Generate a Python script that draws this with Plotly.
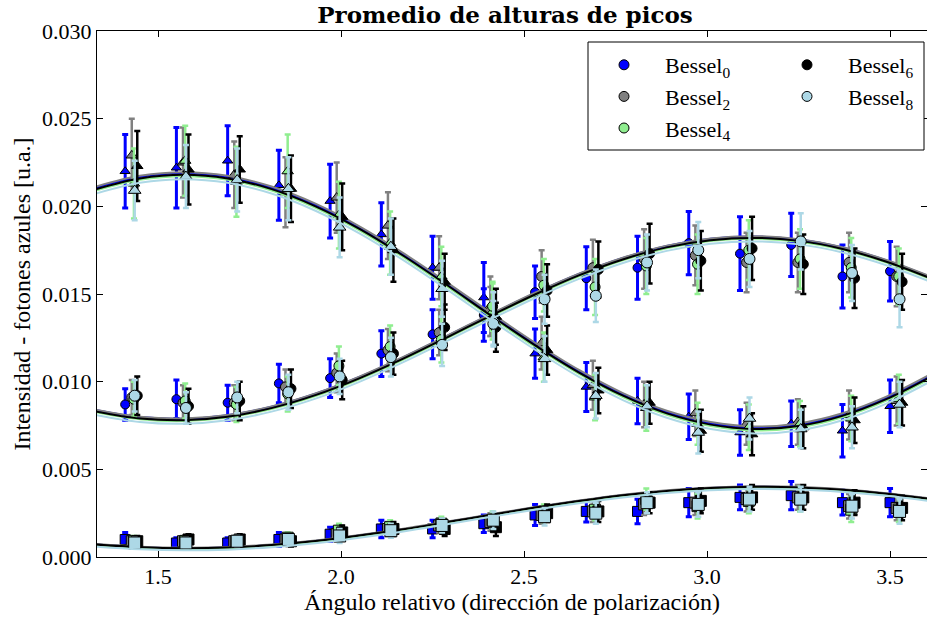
import plotly.graph_objects as go

# ---------------- data ----------------
series_names = ["Bessel<sub>0</sub>", "Bessel<sub>2</sub>", "Bessel<sub>4</sub>",
                "Bessel<sub>6</sub>", "Bessel<sub>8</sub>"]

angles = [1.41, 1.55, 1.69, 1.83, 1.97, 2.11, 2.25, 2.39,
          2.53, 2.67, 2.81, 2.95, 3.09, 3.23, 3.37, 3.50]

# triangles (decreasing peak)
tri_b0 = [0.0220, 0.0222, 0.0226, 0.0212, 0.0203, 0.0184, 0.0165, 0.0148, 0.0116, 0.0097, 0.0089, 0.0080, 0.0071, 0.0076, 0.0072, 0.0086]
tri_b2 = [0.0229, 0.0225, 0.0218, 0.0208, 0.0205, 0.0189, 0.0165, 0.0143, 0.0122, 0.0098, 0.0087, 0.0082, 0.0076, 0.0077, 0.0081, 0.0089]
tri_b4 = [0.0213, 0.0226, 0.0214, 0.0220, 0.0195, 0.0179, 0.0160, 0.0140, 0.0114, 0.0091, 0.0085, 0.0076, 0.0074, 0.0076, 0.0079, 0.0090]
tri_b6 = [0.0223, 0.0221, 0.0221, 0.0210, 0.0194, 0.0175, 0.0157, 0.0137, 0.0118, 0.0095, 0.0088, 0.0072, 0.0070, 0.0074, 0.0078, 0.0088]
tri_b8 = [0.0209, 0.0217, 0.0215, 0.0210, 0.0188, 0.0177, 0.0153, 0.0136, 0.0113, 0.0092, 0.0086, 0.0071, 0.0079, 0.0073, 0.0074, 0.0087]

tri_err_b0 = [0.0021, 0.0023, 0.0020, 0.0020, 0.0021, 0.0018, 0.0018, 0.0020, 0.0014, 0.0014, 0.0013, 0.0013, 0.0013, 0.0013, 0.0015, 0.0015]
tri_err_b2 = [0.0021, 0.0020, 0.0019, 0.0020, 0.0020, 0.0019, 0.0018, 0.0017, 0.0015, 0.0014, 0.0013, 0.0013, 0.0012, 0.0013, 0.0014, 0.0014]
tri_err_b4 = [0.0020, 0.0020, 0.0020, 0.0021, 0.0019, 0.0018, 0.0017, 0.0016, 0.0014, 0.0013, 0.0013, 0.0012, 0.0013, 0.0013, 0.0013, 0.0014]
tri_err_b6 = [0.0020, 0.0020, 0.0019, 0.0019, 0.0019, 0.0018, 0.0016, 0.0016, 0.0014, 0.0013, 0.0012, 0.0012, 0.0012, 0.0012, 0.0013, 0.0013]
tri_err_b8 = [0.0017, 0.0018, 0.0018, 0.0018, 0.0017, 0.0016, 0.0016, 0.0015, 0.0013, 0.0013, 0.0012, 0.0012, 0.0012, 0.0011, 0.0012, 0.0013]

# circles (increasing peak)
cir_b0 = [0.0087, 0.0090, 0.0088, 0.0099, 0.0102, 0.0116, 0.0127, 0.0138, 0.0151, 0.0159, 0.0165, 0.0179, 0.0173, 0.0178, 0.0160, 0.0163]
cir_b2 = [0.0091, 0.0088, 0.0088, 0.0097, 0.0105, 0.0118, 0.0128, 0.0140, 0.0160, 0.0165, 0.0170, 0.0172, 0.0168, 0.0168, 0.0168, 0.0160]
cir_b4 = [0.0090, 0.0089, 0.0087, 0.0093, 0.0109, 0.0120, 0.0124, 0.0143, 0.0155, 0.0154, 0.0166, 0.0167, 0.0175, 0.0170, 0.0165, 0.0160]
cir_b6 = [0.0092, 0.0086, 0.0089, 0.0096, 0.0101, 0.0116, 0.0131, 0.0131, 0.0152, 0.0164, 0.0173, 0.0169, 0.0176, 0.0167, 0.0159, 0.0157]
cir_b8 = [0.0092, 0.0085, 0.0091, 0.0094, 0.0103, 0.0114, 0.0121, 0.0133, 0.0147, 0.0149, 0.0168, 0.0175, 0.0170, 0.0180, 0.0162, 0.0147]

cir_err_b0 = [0.0009, 0.0011, 0.0010, 0.0011, 0.0011, 0.0013, 0.0014, 0.0015, 0.0015, 0.0018, 0.0018, 0.0018, 0.0021, 0.0018, 0.0018, 0.0017]
cir_err_b2 = [0.0010, 0.0010, 0.0010, 0.0010, 0.0011, 0.0012, 0.0013, 0.0014, 0.0015, 0.0016, 0.0017, 0.0017, 0.0017, 0.0017, 0.0017, 0.0017]
cir_err_b4 = [0.0010, 0.0010, 0.0010, 0.0010, 0.0011, 0.0012, 0.0013, 0.0014, 0.0015, 0.0016, 0.0016, 0.0017, 0.0017, 0.0017, 0.0017, 0.0016]
cir_err_b6 = [0.0011, 0.0010, 0.0011, 0.0011, 0.0011, 0.0012, 0.0013, 0.0014, 0.0015, 0.0016, 0.0017, 0.0017, 0.0018, 0.0017, 0.0017, 0.0016]
cir_err_b8 = [0.0009, 0.0009, 0.0009, 0.0010, 0.0010, 0.0011, 0.0012, 0.0013, 0.0014, 0.0015, 0.0016, 0.0016, 0.0016, 0.0016, 0.0016, 0.0016]

# squares (low peak)
sq_b0 = [0.0010, 0.0008, 0.0008, 0.0010, 0.0013, 0.0016, 0.0016, 0.0019, 0.0024, 0.0026, 0.0026, 0.0031, 0.0034, 0.0035, 0.0031, 0.0031]
sq_b2 = [0.0009, 0.0009, 0.0009, 0.0010, 0.0013, 0.0016, 0.0018, 0.0020, 0.0024, 0.0026, 0.0030, 0.0031, 0.0033, 0.0034, 0.0029, 0.0028]
sq_b4 = [0.0009, 0.0009, 0.0009, 0.0011, 0.0015, 0.0017, 0.0019, 0.0021, 0.0025, 0.0027, 0.0033, 0.0029, 0.0032, 0.0033, 0.0027, 0.0027]
sq_b6 = [0.0009, 0.0010, 0.0010, 0.0009, 0.0014, 0.0016, 0.0016, 0.0017, 0.0025, 0.0026, 0.0031, 0.0032, 0.0034, 0.0034, 0.0031, 0.0028]
sq_b8 = [0.0008, 0.0008, 0.0009, 0.0010, 0.0012, 0.0015, 0.0018, 0.0021, 0.0023, 0.0025, 0.0031, 0.0030, 0.0033, 0.0033, 0.0029, 0.0026]

sq_err_b0 = [0.0004, 0.0003, 0.0003, 0.0004, 0.0004, 0.0005, 0.0005, 0.0005, 0.0006, 0.0006, 0.0007, 0.0008, 0.0007, 0.0008, 0.0007, 0.0008]
sq_err_b2 = [0.0003, 0.0003, 0.0003, 0.0003, 0.0004, 0.0004, 0.0004, 0.0005, 0.0005, 0.0006, 0.0006, 0.0007, 0.0007, 0.0007, 0.0007, 0.0007]
sq_err_b4 = [0.0003, 0.0003, 0.0003, 0.0003, 0.0004, 0.0004, 0.0004, 0.0005, 0.0005, 0.0006, 0.0006, 0.0007, 0.0007, 0.0007, 0.0007, 0.0007]
sq_err_b6 = [0.0003, 0.0003, 0.0003, 0.0003, 0.0004, 0.0004, 0.0004, 0.0005, 0.0005, 0.0006, 0.0006, 0.0007, 0.0007, 0.0007, 0.0007, 0.0007]
sq_err_b8 = [0.0003, 0.0003, 0.0003, 0.0003, 0.0004, 0.0004, 0.0004, 0.0005, 0.0005, 0.0006, 0.0006, 0.0007, 0.0007, 0.0007, 0.0007, 0.0007]

# fitted curves
fit_x = [1.33, 1.45, 1.57, 1.69, 1.81, 1.93, 2.05, 2.17, 2.29, 2.41,
         2.53, 2.65, 2.77, 2.89, 3.01, 3.13, 3.25, 3.37, 3.49, 3.61]
fit_tri = [0.02098, 0.02159, 0.02180, 0.02159, 0.02098, 0.02000, 0.01871, 0.01718, 0.01550, 0.01376,
           0.01207, 0.01052, 0.00920, 0.00819, 0.00755, 0.00730, 0.00747, 0.00805, 0.00900, 0.01026]
fit_cir = [0.00830, 0.00790, 0.00780, 0.00800, 0.00849, 0.00923, 0.01019, 0.01131, 0.01253, 0.01377,
           0.01497, 0.01606, 0.01697, 0.01766, 0.01807, 0.01820, 0.01803, 0.01757, 0.01684, 0.01590]
fit_sq = [0.00071, 0.00056, 0.00050, 0.00054, 0.00068, 0.00091, 0.00122, 0.00158, 0.00199, 0.00241,
          0.00282, 0.00319, 0.00352, 0.00377, 0.00393, 0.00400, 0.00397, 0.00383, 0.00361, 0.00331]
# per-series small vertical differences of the fitted curves
fit_tri_shift = [0.00008, 0.00015, -0.00008, 0.0, -0.00025]
fit_cir_shift = [0.00008, 0.00010, -0.00005, 0.0, -0.00020]
fit_sq_shift = [0.0, 0.00003, -0.00005, 0.0, -0.00012]

tri_all = [tri_b0, tri_b2, tri_b4, tri_b6, tri_b8]
cir_all = [cir_b0, cir_b2, cir_b4, cir_b6, cir_b8]
sq_all = [sq_b0, sq_b2, sq_b4, sq_b6, sq_b8]
tri_err_all = [tri_err_b0, tri_err_b2, tri_err_b4, tri_err_b6, tri_err_b8]
cir_err_all = [cir_err_b0, cir_err_b2, cir_err_b4, cir_err_b6, cir_err_b8]
sq_err_all = [sq_err_b0, sq_err_b2, sq_err_b4, sq_err_b6, sq_err_b8]

# ---------------- style ----------------
colors = ["#0000ff", "#808080", "#90ee90", "#000000", "#add8e6"]
dodge = [0.0, 0.018, 0.024, 0.033, 0.026]
bar_thick = [3, 2.5, 2.5, 2.5, 2.5]
msize = [9, 10, 10, 10, 11]
FONT = "Liberation Serif"

fig = go.Figure()

for i in range(5):
    c = colors[i]
    xs = [a + dodge[i] for a in angles]
    for ys, sym, err, extra in ((tri_all[i], "triangle-up", tri_err_all[i], 0),
                                (cir_all[i], "circle", cir_err_all[i], 0),
                                (sq_all[i], "square", sq_err_all[i], 1)):
        fig.add_trace(go.Scatter(
            x=xs, y=ys, mode="markers",
            marker=dict(symbol=sym, size=msize[i] + extra, color=c,
                        line=dict(color="black", width=1)),
            error_y=dict(type="data", array=err, color=c, thickness=bar_thick[i], width=3),
            showlegend=False, hoverinfo="skip"))
    for base, sh in ((fit_tri, fit_tri_shift[i]), (fit_cir, fit_cir_shift[i]), (fit_sq, fit_sq_shift[i])):
        fig.add_trace(go.Scatter(
            x=fit_x, y=[v + sh for v in base], mode="lines",
            line=dict(color=c, width=2, shape="spline", smoothing=1.0),
            showlegend=False, hoverinfo="skip"))

# legend entries
for i in range(5):
    fig.add_trace(go.Scatter(
        x=[None], y=[None], mode="markers", name=series_names[i],
        marker=dict(symbol="circle", size=10, color=colors[i], line=dict(color="black", width=1)),
        legend="legend" if i < 3 else "legend2"))

W, H = 927, 621
ml, mr, mt, mb = 97, 0, 31, 64
pw, ph = W - ml - mr, H - mt - mb

def px2x(p):
    return (p - ml) / pw

def py2y(p):
    return 1 - (p - mt) / ph

fig.add_shape(type="rect", xref="paper", yref="paper",
              x0=px2x(588), x1=px2x(924), y0=py2y(150), y1=py2y(42),
              line=dict(color="black", width=1), fillcolor="white", layer="above")

axis_common = dict(showline=True, linecolor="black", linewidth=1, mirror="allticks",
                   ticks="inside", ticklen=6, tickcolor="black", showgrid=False,
                   zeroline=False, tickfont=dict(family=FONT, size=22, color="black"))

fig.update_layout(
    width=W, height=H,
    margin=dict(l=ml, r=mr, t=mt, b=mb),
    paper_bgcolor="white", plot_bgcolor="white",
    font=dict(family=FONT, size=22, color="black"),
    title=dict(text="<b>Promedio de alturas de picos</b>", x=px2x(505), xref="paper",
               xanchor="center", y=1 - 15 / H, yanchor="middle",
               font=dict(family="DejaVu Serif", size=23)),
    xaxis=dict(range=[1.333, 3.601], tickvals=[1.5, 2.0, 2.5, 3.0, 3.5], tickformat=".1f",
               title=dict(text="Ángulo relativo (dirección de polarización)", standoff=4,
                          font=dict(family=FONT, size=24)),
               **axis_common),
    yaxis=dict(range=[0, 0.030], tickvals=[0, 0.005, 0.010, 0.015, 0.020, 0.025, 0.030],
               tickformat=".3f",
               title=dict(text="Intensidad - fotones azules [u.a.]", standoff=4,
                          font=dict(family=FONT, size=24)),
               **axis_common),
    legend=dict(x=px2x(583), y=py2y(44), xanchor="left", yanchor="top",
                bgcolor="rgba(0,0,0,0)", borderwidth=0, itemwidth=72,
                font=dict(family=FONT, size=22), tracegroupgap=0),
    legend2=dict(x=px2x(766), y=py2y(44), xanchor="left", yanchor="top",
                 bgcolor="rgba(0,0,0,0)", borderwidth=0, itemwidth=72,
                 font=dict(family=FONT, size=22), tracegroupgap=0),
)

fig.write_html("out.html")
